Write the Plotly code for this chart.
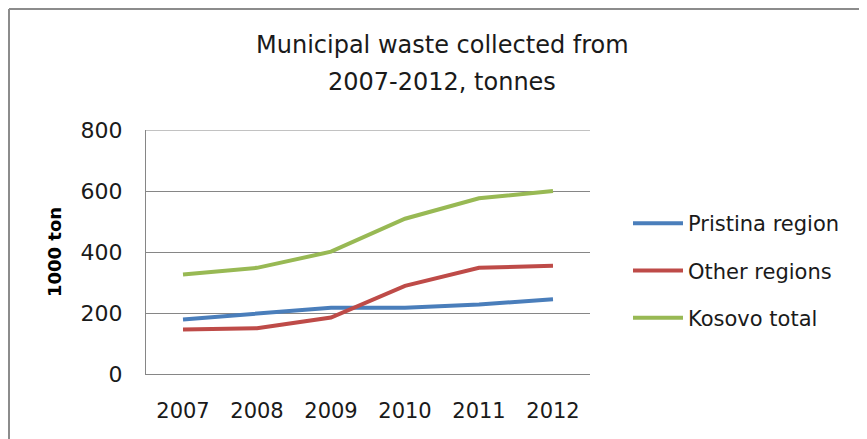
import plotly.graph_objects as go

years = ["2007", "2008", "2009", "2010", "2011", "2012"]
pristina = [179, 198, 217, 217, 228, 245]
other = [146, 150, 185, 289, 348, 355]
kosovo = [326, 348, 401, 509, 576, 600]
y_ticks = [0, 200, 400, 600, 800]
title_lines = ["Municipal waste collected from", "2007-2012, tonnes"]

W, H = 867, 439
OFF = 8  # page body offset
# target pixel positions in the screenshot
PL, PR, PT, PB = 146, 590, 130, 374
L = PL - OFF
T = PT - OFF
R = W - (PR - OFF)
B = H - (PB - OFF)
pw = W - L - R
ph = H - T - B

FONT = "'DejaVu Sans', sans-serif"
TXT = "#1a1a1a"
GRID = "#868686"

fig = go.Figure()
names = ["Pristina region", "Other regions", "Kosovo total"]
colors = ["#4a7ebb", "#be4b48", "#98b954"]
for nm, vals, col in zip(names, [pristina, other, kosovo], colors):
    fig.add_trace(go.Scatter(x=years, y=vals, name=nm, mode="lines", legendgroup=nm,
                             line=dict(color=col, width=4)))

def fx(xf):  # figure px -> paper
    return (xf - L) / pw

def fy(yf):
    return (H - B - yf) / ph

def sx(xs):  # screen px -> paper
    return fx(xs - OFF)

def sy(ys):
    return fy(ys - OFF)

# chart frame (left and top edges visible)
fig.add_shape(type="line", xref="paper", yref="paper", x0=fx(1), x1=fx(1), y0=fy(1), y1=fy(H),
              line=dict(color="#8c8c8c", width=2))
fig.add_shape(type="line", xref="paper", yref="paper", x0=fx(1), x1=fx(W), y0=fy(1), y1=fy(1),
              line=dict(color="#8c8c8c", width=2))
# top gridline at the maximum tick
fig.add_shape(type="line", xref="paper", yref="y", x0=0, x1=1, y0=y_ticks[-1], y1=y_ticks[-1],
              line=dict(color=GRID, width=1), layer="below")

for i, (txt, ys) in enumerate(zip(title_lines, [45, 82])):
    fig.add_annotation(text=txt, xref="paper", yref="paper", x=sx(442), y=sy(ys),
                       xanchor="center", yanchor="middle", showarrow=False,
                       font=dict(size=24, family=FONT, color=TXT))

fig.update_layout(
    width=W, height=H,
    margin=dict(l=L, r=R, t=T, b=B),
    paper_bgcolor="white", plot_bgcolor="white",
    font=dict(family=FONT, color="#000000", size=20),
    showlegend=True,
    legend=dict(x=sx(628), xanchor="left", y=sy(203), yanchor="top",
                font=dict(size=21, family=FONT, color=TXT), tracegroupgap=17,
                itemwidth=50, bgcolor="rgba(0,0,0,0)"),
    xaxis=dict(type="category", showgrid=False, showline=True, linecolor=GRID,
               linewidth=1, mirror=False, ticks="", tickfont=dict(size=21, color=TXT),
               ticklabelstandoff=18, range=[-0.5, 5.5]),
    yaxis=dict(range=[0, 800], tickvals=y_ticks, showgrid=True,
               gridcolor=GRID, gridwidth=1, showline=True, linecolor=GRID,
               linewidth=1, ticks="", tickfont=dict(size=22, color=TXT), zeroline=False,
               ticklabelstandoff=18,
               title=dict(text="<b>1000 ton</b>", font=dict(size=18), standoff=14)),
)

fig.write_html("out.html")
